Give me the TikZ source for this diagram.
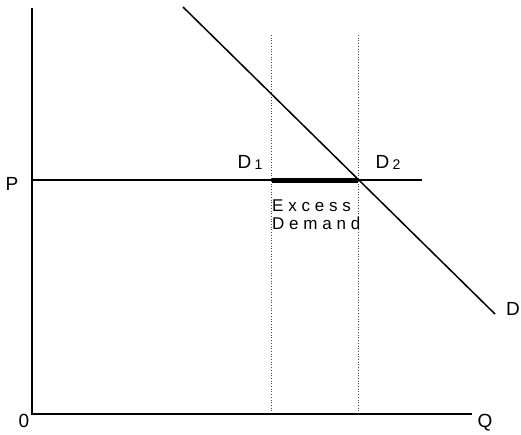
\documentclass[tikz,border=0pt]{standalone}
\usepackage{fontspec}
\setmainfont{Liberation Sans}
\begin{document}
\begin{tikzpicture}[x=1pt,y=-1pt,
  axis/.style={line width=1.8pt},
  guide/.style={dotted,line width=0.7pt,gray!60!black},
  curve/.style={line width=1.5pt},
  lbl/.style={font=\fontsize{19}{21}\selectfont,inner sep=0pt}]
\useasboundingbox (0,0) rectangle (521,434);
\coordinate (top) at (32,8);
\coordinate (origin) at (32,414);
\coordinate (xend) at (472,414);
\coordinate (pstart) at (32,180);
\coordinate (pend) at (422,180);
\coordinate (d1) at (272,180);
\coordinate (d2) at (358,180);
\coordinate (d1top) at (271,35);
\coordinate (d1bot) at (271,414);
\coordinate (d2top) at (358,35);
\coordinate (d2bot) at (358,414);
\coordinate (dstart) at (183,7);
\coordinate (dend) at (495,314);
\draw[guide] (d1top) -- (d1bot);
\draw[guide] (d2top) -- (d2bot);
\draw[axis] (top) -- (origin) -- (xend);
\draw[line width=1.4pt] (pstart) -- (pend);
\draw[line width=5pt] (d1) -- (d2);
\draw[curve] (dstart) -- (dend);
\node[lbl] (P) at (12,184) {P};
\node[lbl] (zero) at (24,421) {0};
\node[lbl] (Q) at (485,423) {Q};
\node[lbl] (D) at (513,309) {D};
\node[lbl] (D1) at (250,162) {D\,{\fontsize{14}{14}\selectfont\raisebox{-1pt}{1}}};
\node[lbl] (D2) at (388,162) {D\,{\fontsize{14}{14}\selectfont\raisebox{-1pt}{2}}};
\node[lbl,font=\fontsize{17}{19}\selectfont\addfontfeature{LetterSpace=28},align=left,anchor=north west] (ex) at (272,200) {Excess\\[-1pt]Demand};
\end{tikzpicture}
\end{document}
